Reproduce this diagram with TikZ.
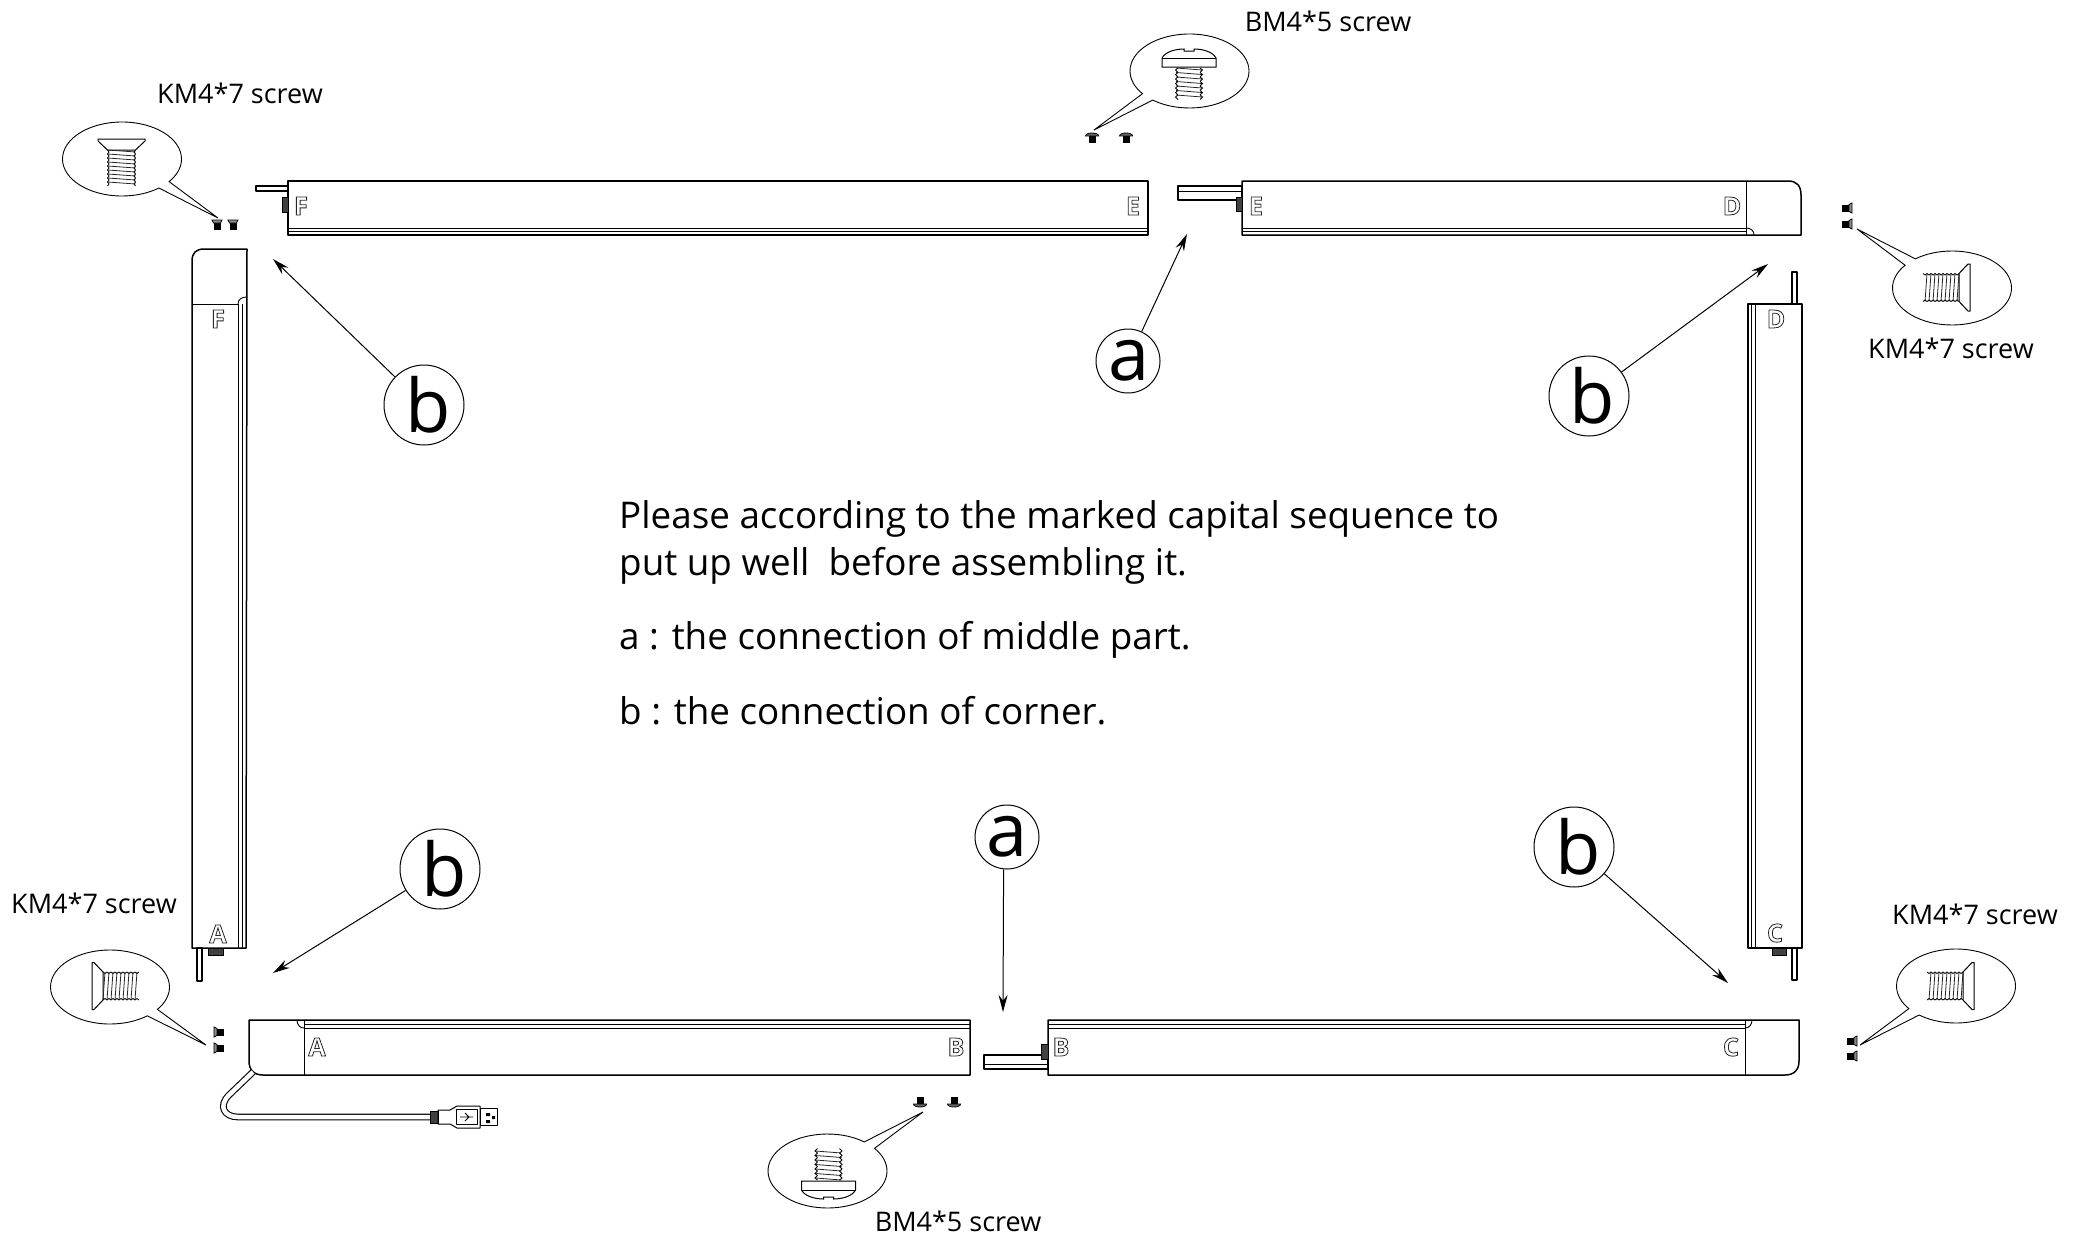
\documentclass[tikz,border=0pt]{standalone}
\usepackage{fontspec}
\setmainfont{Open Sans}
\usetikzlibrary{arrows.meta,shapes.callouts,shapes.geometric}

\newcommand{\hollow}[1]{\special{pdf:code 1 Tr 0.8 w 0.15 G}#1\special{pdf:code 0 Tr 1 w 0 G}}

\tikzstyle{bar} = [line width=1.5pt, draw=black, fill=none, line join=round]
\tikzstyle{rail} = [line width=0.9pt, draw=black]
\tikzstyle{thin} = [line width=0.8pt, draw=black]
\tikzstyle{knob} = [fill=black!75, draw=black, line width=0.4pt]
\tikzstyle{arrow} = [line width=1pt,-{Stealth[length=17pt,width=9pt]}]
\tikzstyle{bubble} = [ellipse callout, draw=black, line width=0.9pt, inner sep=0pt, minimum width=119pt, minimum height=74pt, callout pointer arc=14]
\tikzstyle{tag} = [circle, draw=black, line width=1pt, inner sep=0pt, font=\fontsize{74pt}{74pt}\selectfont]
\tikzstyle{partletter} = [inner sep=0pt, font=\fontsize{25pt}{25pt}\selectfont\bfseries]
\tikzstyle{screwlabel} = [inner sep=0pt, font=\fontsize{27pt}{32pt}\selectfont]
\tikzstyle{note} = [anchor=west, inner sep=0pt, font=\fontsize{36.8pt}{40pt}\selectfont]

\tikzset{
  pics/kmbig/.style={code={
    \draw [thin, line width=1pt] (-23.5,0) -- (23.5,0) -- (23.5,2) -- (14,11) -- (-14,11) -- (-23.5,2) -- cycle;
    \foreach \i in {0,...,8} {
      \draw [thin, line width=0.8pt, black!85] (-14,11+4*\i) -- (14,13+4*\i);
      \draw [thin, line width=0.8pt] (-14,11+4*\i) -- (-12.5,13+4*\i) -- (-14,15+4*\i);
      \draw [thin, line width=0.8pt] (14,11+4*\i) -- (12.5,13+4*\i) -- (14,15+4*\i);
    }
  }},
  pics/bmbig/.style={code={
    \draw [thin, line width=1pt] (-27,0) -- (27,0) -- (27,-9) .. controls (24,-15) and (14,-18) .. (5,-18) -- (5,-16) -- (-5,-16) -- (-5,-18) .. controls (-14,-18) and (-24,-15) .. (-27,-9) -- cycle;
    \draw [thin, line width=0.6pt] (-27,-9) -- (27,-9);
    \foreach \i in {0,...,6} {
      \draw [thin, line width=0.8pt, black!85] (-13,1+4.5*\i) -- (13,3+4.5*\i);
      \draw [thin, line width=0.8pt] (-11,1+4.5*\i) -- (-13.5,3+4.5*\i) -- (-11,5.5+4.5*\i);
      \draw [thin, line width=0.8pt] (11,1+4.5*\i) -- (13.5,3+4.5*\i) -- (11,5.5+4.5*\i);
    }
  }},
  pics/kmsmall/.style={code={
    \fill [black] (-3.5,-2) rectangle (3.5,5);
    \draw [line width=0.8pt, fill=black!45] (-5,-5) -- (5,-5) -- (3.5,-2) -- (-3.5,-2) -- cycle;
  }},
  pics/bmsmall/.style={code={
    \fill [black] (-3.5,-1) rectangle (3.5,6);
    \draw [line width=0.8pt, fill=black!60] (-6.5,-1) .. controls (-6.5,-5) and (6.5,-5) .. (6.5,-1) -- cycle;
  }}
}

\begin{document}
\begin{tikzpicture}[x=1pt, y=-1pt]
    \useasboundingbox (0,0) rectangle (2083,1237);

    % top row
    \draw [bar] (288,181) rectangle (1148,235);
    \draw [rail] (288,228) -- (1148,228) (288,231.5) -- (1148,231.5);
    \draw [bar] (256,186) rectangle (288,191);
    \draw [knob] (282,197) rectangle (288,212);
    \draw [bar] (1242,181) -- (1788,181) .. controls (1797,181) and (1801,186) .. (1801,195) -- (1801,235) -- (1242,235) -- cycle;
    \draw [rail] (1242,228) -- (1746,228) (1242,231.5) -- (1746,231.5);
    \draw [thin] (1746,181) -- (1746,235);
    \draw [rail] (1746,228) .. controls (1751,228) and (1754,231) .. (1754,235);
    \draw [bar] (1178,186) rectangle (1242,200);
    \draw [rail] (1178,191) -- (1242,191);
    \draw [knob] (1236,197) rectangle (1242,211);

    % left column
    \draw [bar] (247,249) -- (204,249) .. controls (196,249) and (192,253) .. (192,261) -- (192,948) -- (246,948) -- cycle;
    \draw [thin] (192,304) -- (238,304);
    \draw [rail] (238.5,304) -- (238.5,948) (242.5,304) -- (242.5,948);
    \draw [rail] (238,304) .. controls (238,299) and (242,297) .. (247,297);
    \draw [bar] (197,948) rectangle (202,981);
    \draw [knob] (208,948) rectangle (223,955);

    % right column
    \draw [bar] (1748,304) rectangle (1802,948);
    \draw [rail] (1751.5,304) -- (1751.5,948) (1755,304) -- (1755,948);
    \draw [bar] (1792,272) rectangle (1797,304);
    \draw [bar] (1792,948) rectangle (1797,980);
    \draw [knob] (1772,948) rectangle (1786,955);

    % bottom row
    \draw [bar] (249,1020) -- (970,1020) -- (970,1075) -- (263,1075) .. controls (254,1075) and (249,1070) .. (249,1061) -- cycle;
    \draw [rail] (304,1024) -- (970,1024) (304,1028) -- (970,1028);
    \draw [thin] (304,1020) -- (304,1075);
    \draw [rail] (297,1020) .. controls (297,1025) and (300,1028) .. (304,1028);
    \draw [bar] (1048,1020) -- (1799,1020) -- (1799,1061) .. controls (1799,1070) and (1794,1075) .. (1785,1075) -- (1048,1075) -- cycle;
    \draw [rail] (1048,1024) -- (1745,1024) (1048,1028) -- (1745,1028);
    \draw [thin] (1745,1020) -- (1745,1075);
    \draw [rail] (1745,1028) .. controls (1749,1028) and (1752,1025) .. (1752,1020);
    \draw [bar] (984,1055) rectangle (1048,1069);
    \draw [rail] (984,1064) -- (1048,1064);
    \draw [knob] (1041,1044) rectangle (1048,1059);

    % usb cable
    \draw [line width=1.1pt, double, double distance=4.5pt] (253,1072) -- (229,1095) .. controls (218,1106) and (224,1117) .. (238,1117) -- (430,1117);
    \draw [knob] (430,1111) rectangle (438,1123);
    \draw [bar, line width=1pt] (438,1110) -- (450,1110) -- (457,1106) -- (480,1106) -- (480,1128) -- (457,1128) -- (450,1124) -- (438,1124) -- cycle;
    \draw [bar, line width=1pt] (456,1109) rectangle (477,1124);
    \draw [bar, line width=1pt] (480,1108) rectangle (497,1125);
    \draw [thin] (460,1117) -- (473,1117) (465,1113) -- (469,1117) -- (465,1121);
    \fill (486,1113) rectangle (490,1116) (486,1120) rectangle (490,1123) (492,1116) rectangle (495,1119);

    % letters
    \node (F Top) [partletter] at (301,206) {\hollow{F}};
    \node (E Left) [partletter] at (1133,206) {\hollow{E}};
    \node (E Right) [partletter] at (1256,206) {\hollow{E}};
    \node (D Top) [partletter] at (1732,206) {\hollow{D}};
    \node (F Side) [partletter] at (218,319) {\hollow{F}};
    \node (A Side) [partletter] at (218,934) {\hollow{A}};
    \node (D Side) [partletter] at (1776,319) {\hollow{D}};
    \node (C Side) [partletter] at (1775,933) {\hollow{C}};
    \node (A Low) [partletter] at (317,1047) {\hollow{A}};
    \node (B Left) [partletter] at (956,1047) {\hollow{B}};
    \node (B Right) [partletter] at (1061,1047) {\hollow{B}};
    \node (C Low) [partletter] at (1731,1047) {\hollow{C}};

    % screws
    \node (Bubble TL) [bubble, callout absolute pointer={(218,218)}] at (122,159) {};
    \pic at (121.5,139) {kmbig};
    \pic at (217,225) {kmsmall};
    \pic at (233,225) {kmsmall};
    \node (Bubble Top) [bubble, callout absolute pointer={(1094,130)}] at (1189.5,71) {};
    \pic at (1189,67) {bmbig};
    \pic at (1092,137) {bmsmall};
    \pic at (1126,137) {bmsmall};
    \node (Bubble TR) [bubble, callout absolute pointer={(1857,229)}] at (1952,288) {};
    \pic [rotate=-90] at (1970,287.5) {kmbig};
    \pic [rotate=-90] at (1847,208) {kmsmall};
    \pic [rotate=-90] at (1847,224) {kmsmall};
    \node (Bubble BL) [bubble, callout absolute pointer={(206,1045)}] at (110,987) {};
    \pic [rotate=90] at (92,986) {kmbig};
    \pic [rotate=90] at (219,1032) {kmsmall};
    \pic [rotate=90] at (219,1048) {kmsmall};
    \node (Bubble Low) [bubble, callout absolute pointer={(923,1112)}] at (827.5,1171) {};
    \pic [rotate=180] at (828.5,1181) {bmbig};
    \pic [rotate=180] at (920,1103) {bmsmall};
    \pic [rotate=180] at (954,1103) {bmsmall};
    \node (Bubble BR) [bubble, callout absolute pointer={(1860,1045)}] at (1956,986) {};
    \pic [rotate=-90] at (1974,986) {kmbig};
    \pic [rotate=-90] at (1852,1041) {kmsmall};
    \pic [rotate=-90] at (1852,1056) {kmsmall};

    \node (KM TL) [screwlabel] at (240,93) {KM4*7 screw};
    \node (BM Top) [screwlabel] at (1328,21) {BM4*5 screw};
    \node (KM TR) [screwlabel] at (1951,348) {KM4*7 screw};
    \node (KM BL) [screwlabel] at (94,903) {KM4*7 screw};
    \node (KM BR) [screwlabel] at (1975,914) {KM4*7 screw};
    \node (BM Low) [screwlabel] at (958,1221) {BM4*5 screw};

    % text
    \node (Line One) [note] at (619,519) {Please according to the marked capital sequence to};
    \node (Line Two) [note] at (619,566) {put up well\ \ before assembling it.};
    \node (Line Three) [note] at (619,640) {a : the connection of middle part.};
    \node (Line Four) [note] at (619,711) {b : the connection of corner.};

    % tags
    \node (a Top) [tag, minimum size=64pt] at (1128,361) {\kern2pt a};
    \node (a Low) [tag, minimum size=64pt] at (1007,837) {\kern1pt a};
    \node (b TL) [tag, minimum size=80pt] at (424,405) {\kern9pt b};
    \node (b TR) [tag, minimum size=80pt] at (1589,396) {\kern7pt b};
    \node (b BL) [tag, minimum size=80pt] at (440,869) {\kern8pt b};
    \node (b BR) [tag, minimum size=80pt] at (1574,847) {\kern8pt b};

    \coordinate (Tip a Top) at (1187,234);
    \coordinate (Tip a Low) at (1003,1012);
    \coordinate (Tip TL) at (273,259);
    \coordinate (Tip TR) at (1768,264);
    \coordinate (Tip BL) at (273,973);
    \coordinate (Tip BR) at (1728,983);
    \draw [arrow] (a Top) -- (Tip a Top);
    \draw [arrow] (a Low.264) -- (Tip a Low);
    \draw [arrow] (b TL) -- (Tip TL);
    \draw [arrow] (b TR) -- (Tip TR);
    \draw [arrow] (b BL) -- (Tip BL);
    \draw [arrow] (b BR) -- (Tip BR);
\end{tikzpicture}
\end{document}
